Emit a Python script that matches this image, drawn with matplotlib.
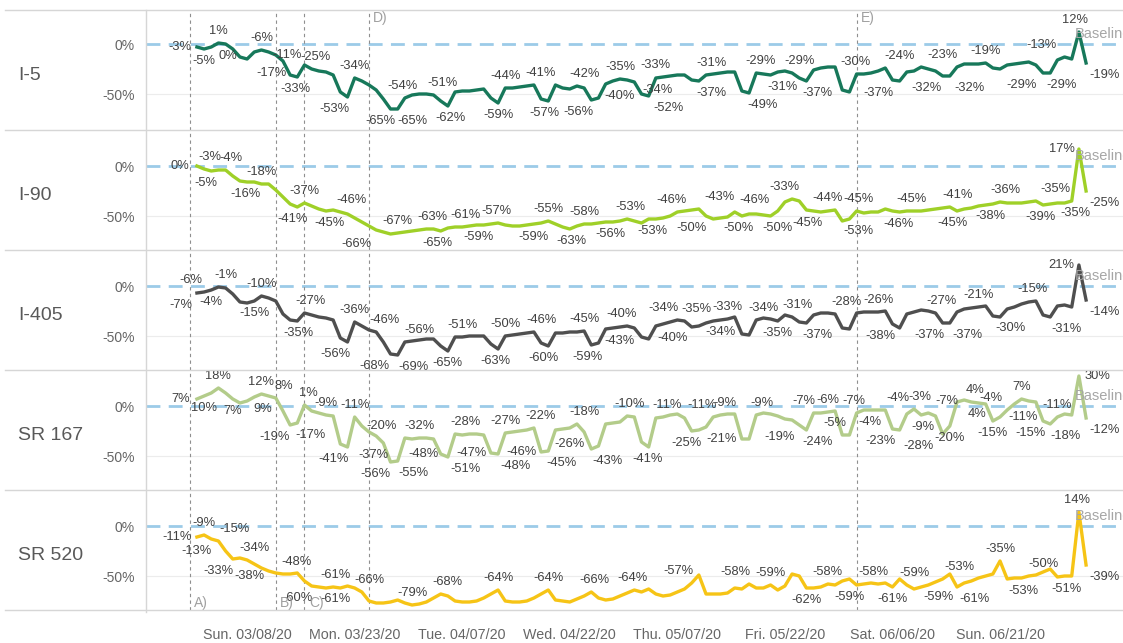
import numpy as np
import pandas as pd
import matplotlib
matplotlib.use("Agg")
import matplotlib.pyplot as plt
from matplotlib.lines import Line2D

plt.rcParams["font.family"] = ["Liberation Sans", "DejaVu Sans"]

# daily change vs baseline (%), starting Sun 03/01/20
start = pd.Timestamp("2020-03-01")

roads = ["I-5", "I-90", "I-405", "SR 167", "SR 520"]

i5 = [-3, -5, -3, 1, 0, -5, -13, -15, -8, -6,
      -8, -11, -17, -31, -33, -21, -25, -27, -28, -31,
      -48, -53, -34, -37, -41, -46, -55, -65, -65, -54,
      -51, -50, -50, -51, -57, -62, -48, -47, -47, -46,
      -45, -54, -59, -44, -44, -43, -42, -41, -55, -57,
      -41, -44, -45, -42, -44, -56, -54, -40, -37, -35,
      -36, -38, -50, -52, -34, -33, -32, -31, -31, -36,
      -37, -31, -30, -29, -28, -28, -47, -49, -29, -30,
      -31, -28, -27, -29, -34, -37, -26, -24, -23, -23,
      -46, -48, -30, -30, -29, -27, -24, -36, -37, -28,
      -27, -23, -25, -27, -32, -32, -23, -20, -20, -20,
      -19, -24, -25, -21, -20, -19, -18, -21, -29, -29,
      -16, -13, -15, 12, -19]

i90 = [0, -3, -5, -4, -4, -10, -15, -16, -16, -18,
       -18, -24, -31, -38, -41, -37, -40, -43, -45, -44,
       -46, -48, -52, -56, -60, -64, -66, -68, -67, -66,
       -65, -64, -63, -63, -65, -62, -61, -61, -60, -59,
       -59, -58, -57, -59, -60, -60, -59, -58, -57, -55,
       -58, -61, -63, -60, -58, -58, -57, -56, -56, -55,
       -53, -55, -57, -53, -53, -52, -50, -46, -45, -44,
       -43, -50, -53, -52, -51, -46, -50, -48, -48, -49,
       -50, -45, -36, -33, -35, -44, -45, -46, -45, -44,
       -55, -53, -45, -47, -46, -46, -43, -45, -46, -45,
       -45, -45, -44, -43, -42, -41, -45, -43, -42, -40,
       -39, -38, -36, -37, -37, -37, -36, -35, -39, -38,
       -37, -37, -35, 17, -25]

i405 = [-7, -6, -4, -1, -2, -8, -16, -17, -15, -10,
        -12, -15, -28, -34, -35, -27, -29, -31, -32, -34,
        -52, -56, -36, -40, -44, -46, -56, -68, -69, -56,
        -55, -54, -53, -53, -60, -65, -51, -51, -50, -50,
        -50, -58, -63, -50, -49, -48, -47, -46, -57, -60,
        -47, -47, -46, -46, -45, -59, -57, -43, -42, -41,
        -40, -42, -51, -53, -40, -38, -36, -34, -35, -41,
        -40, -37, -35, -34, -33, -31, -48, -49, -34, -32,
        -33, -35, -29, -31, -36, -37, -29, -27, -27, -28,
        -42, -43, -27, -26, -26, -26, -25, -38, -42, -28,
        -26, -24, -25, -27, -37, -37, -26, -23, -22, -21,
        -20, -30, -31, -23, -21, -18, -16, -15, -29, -31,
        -20, -19, -21, 21, -14]

sr167 = [7, 10, 13, 18, 13, 7, 3, 5, 9, 12,
         10, 8, -5, -19, -17, 1, -5, -7, -9, -10,
         -38, -41, -11, -20, -26, -30, -37, -56, -55, -32,
         -33, -32, -32, -33, -48, -51, -28, -29, -28, -28,
         -29, -47, -48, -27, -26, -25, -24, -22, -46, -45,
         -24, -23, -22, -18, -26, -43, -40, -18, -17, -16,
         -10, -11, -36, -41, -12, -11, -9, -8, -12, -25,
         -24, -21, -11, -9, -8, -8, -33, -33, -9, -7,
         -8, -10, -13, -14, -19, -24, -7, -7, -6, -5,
         -29, -29, -7, -4, -4, -4, -4, -23, -24, -8,
         -3, -9, -7, -10, -28, -20, 4, 6, 4, 3,
         2, -15, -11, -4, 2, 7, 5, 4, -15, -18,
         -11, -8, -9, 30, -12]

sr520 = [-11, -9, -13, -15, -25, -33, -32, -34, -38, -42,
         -45, -47, -48, -48, -47, -55, -60, -61, -62, -61,
         -62, -60, -62, -66, -75, -77, -77, -76, -74, -77,
         -79, -78, -76, -72, -68, -70, -75, -76, -76, -75,
         -72, -68, -64, -75, -76, -76, -75, -72, -68, -64,
         -74, -75, -76, -73, -70, -66, -72, -74, -73, -70,
         -67, -64, -66, -63, -68, -70, -69, -66, -63, -57,
         -49, -68, -68, -68, -67, -62, -63, -58, -62, -62,
         -59, -64, -60, -48, -50, -62, -62, -61, -58, -59,
         -55, -53, -59, -58, -57, -58, -57, -61, -53, -59,
         -63, -61, -59, -56, -53, -48, -61, -57, -55, -52,
         -50, -48, -35, -53, -52, -52, -50, -49, -46, -43,
         -51, -50, -50, 14, -39]

series = [i5, i90, i405, sr167, sr520]
colors = ["#17785a", "#9fd028", "#4f4f4f", "#b3cc8a", "#f6c416"]

event_names = ["A)", "B)", "C)", "D)", "E)"]
event_dates = ["2020-02-29", "2020-03-12", "2020-03-16", "2020-03-25", "2020-06-01"]
event_panel = [4, 4, 4, 0, 0]

tick_dates = ["2020-03-08", "2020-03-23", "2020-04-07", "2020-04-22",
              "2020-05-07", "2020-05-22", "2020-06-06", "2020-06-21"]

# which points carry a value label: (day, side, x of text or None)
labels = {
    "I-5": [(0, "m", -2.4), (1, "b", None), (3, "a", None), (4, "b", 4.3), (9, "a", None),
            (11, "m", 12.6), (12, "b", 10.4), (14, "b", 13.8), (16, "a", 16.6), (21, "b", 19.2),
            (22, "a", None), (27, "b", 25.6), (28, "b", 30.1), (29, "a", 28.7), (33, "a", 34.2),
            (35, "b", 35.3), (42, "b", None), (43, "a", None), (47, "a", 47.9), (49, "b", 48.4),
            (53, "a", 54.1), (55, "b", 53.2), (57, "b", 59.0), (59, "a", None), (63, "b", 65.7),
            (64, "b", 64.3), (65, "a", 64.0), (70, "b", 71.8), (71, "a", 71.8), (77, "b", 78.9),
            (78, "a", 78.6), (80, "b", 81.6), (83, "a", 84.1), (85, "b", 86.6), (92, "a", 91.8),
            (96, "a", 98.0), (98, "b", 95.0), (104, "b", 101.8), (105, "b", 107.8),
            (106, "a", 104.0), (110, "a", None), (118, "b", 115.0), (119, "b", 120.6),
            (121, "a", 117.8), (123, "a", 122.5), (124, "b", 126.6)],
    "I-90": [(0, "m", -2.4), (1, "a", 1.8), (4, "a", 4.8), (2, "b", 1.2), (7, "b", 6.8),
             (9, "a", None), (15, "a", None), (14, "b", 13.4), (18, "b", 18.5), (20, "a", 21.6),
             (26, "b", 22.2), (28, "a", None), (32, "a", 32.9), (36, "a", 37.4), (42, "a", 41.8),
             (34, "b", 33.5), (40, "b", 39.2), (49, "a", None), (54, "a", 54.1), (46, "b", 46.9),
             (52, "b", 52.3), (57, "b", 57.6), (60, "a", 60.4), (63, "b", 63.5), (67, "a", 66.2),
             (71, "b", 69.0), (70, "a", 72.9), (75, "a", 77.8), (76, "b", 75.5), (80, "b", 81.0),
             (83, "a", 82.0), (86, "b", 85.1), (89, "a", 87.9), (92, "a", 92.2), (91, "b", 92.2),
             (98, "b", 97.8), (100, "a", 99.7), (105, "a", 106.1), (106, "b", 105.4),
             (111, "b", 110.6), (112, "a", 112.7), (117, "a", 119.7), (118, "b", 117.6),
             (122, "b", 122.5), (123, "m", 120.6), (124, "b", 126.6)],
    "I-405": [(0, "b", -2.2), (1, "a", -0.9), (2, "b", 2.0), (3, "a", 4.1), (9, "a", None),
              (8, "b", None), (15, "a", 15.8), (14, "b", 14.1), (22, "a", None), (21, "b", 19.3),
              (25, "a", 26.2), (27, "b", 24.8), (29, "a", 31.1), (28, "b", 30.2), (35, "b", None),
              (36, "a", 37.1), (43, "a", None), (42, "b", 41.6), (47, "a", 48.1), (49, "b", 48.3),
              (54, "a", None), (55, "b", 54.5), (60, "a", 59.2), (57, "b", 59.0), (67, "a", 65.1),
              (68, "a", 69.7), (64, "b", 66.4), (74, "a", None), (73, "b", None), (78, "a", 79.0),
              (81, "b", None), (83, "a", 83.8), (85, "b", 86.5), (89, "a", 90.6), (95, "a", None),
              (97, "b", 95.3), (103, "a", 103.9), (104, "b", 102.2), (105, "b", 107.4),
              (109, "a", None), (111, "b", 113.4), (117, "a", 116.5), (119, "b", 121.3),
              (123, "m", 120.6), (124, "b", 126.6)],
    "SR 167": [(0, "m", -2.3), (1, "b", None), (3, "a", None), (5, "b", None), (8, "b", 9.2),
               (9, "a", None), (11, "a", 12.1), (15, "a", 15.5), (13, "b", 10.8), (14, "b", 15.8),
               (18, "a", None), (22, "a", None), (23, "m", 25.8), (29, "a", 31.1), (21, "b", 19.1),
               (26, "b", 24.6), (27, "b", 24.9), (28, "b", 30.2), (34, "m", 31.6), (36, "a", 37.4),
               (41, "m", 38.3), (35, "b", 37.4), (43, "a", None), (42, "b", 44.4), (48, "m", 45.3),
               (49, "b", 50.9), (54, "b", 52.0), (47, "a", 47.9), (53, "a", 54.1), (60, "a", 60.4),
               (55, "b", 57.2), (63, "b", 62.9), (65, "a", 65.5), (72, "a", 70.4), (73, "a", 73.7),
               (69, "b", 68.3), (71, "b", 73.2), (78, "a", 78.8), (84, "b", 81.3), (86, "a", 84.6),
               (88, "a", None), (89, "b", None), (85, "b", 86.5), (92, "a", 91.6), (93, "b", 93.9),
               (97, "b", 95.3), (96, "a", 97.8), (100, "a", 100.8), (101, "b", 101.3),
               (104, "b", 100.6), (102, "a", 104.6), (105, "b", None), (108, "a", 108.5),
               (106, "b", 108.8), (113, "a", 110.7), (111, "b", None), (112, "m", 115.2),
               (115, "a", None), (118, "b", 116.3), (119, "b", 121.1), (120, "a", None),
               (123, "m", 125.6), (124, "b", 126.6)],
    "SR 520": [(0, "m", -2.8), (1, "a", None), (2, "b", 0.0), (3, "a", 5.2), (5, "b", 3.0),
               (7, "a", 8.1), (8, "b", 7.3), (12, "a", 13.9), (16, "b", 14.0), (17, "b", 19.3),
               (19, "a", 19.3), (23, "a", 24.1), (30, "a", None), (34, "a", 35.0), (42, "a", None),
               (49, "a", None), (55, "a", 55.5), (61, "a", 60.7), (69, "a", 67.1), (77, "a", 75.1),
               (80, "a", None), (88, "a", None), (93, "a", 94.3), (99, "a", 100.1),
               (104, "a", 106.4), (112, "a", None), (116, "a", 118.0), (123, "a", 122.8),
               (85, "b", None), (92, "b", 91.0), (97, "b", None), (102, "b", 103.4),
               (106, "b", 108.5), (113, "b", 115.2), (120, "b", 121.3), (124, "b", 126.6)],
}

W, H = 1123, 643
fig = plt.figure(figsize=(W / 100, H / 100), dpi=100)

x = np.arange(len(i5))
event_days = [(pd.Timestamp(d) - start).days for d in event_dates]
tick_days = [(pd.Timestamp(d) - start).days for d in tick_dates]
tick_text = [pd.Timestamp(d).strftime("%a. %m/%d/%y") for d in tick_dates]

dy = {"a": 8.5, "b": -8.5, "m": 0}

for i, (road, vals, col) in enumerate(zip(roads, series, colors)):
    top = 10 + 120 * i
    ax = fig.add_axes([146 / W, 1 - (top + 120) / H, 1 - 146 / W, 120 / H])
    ax.set_xlim(-7.1, 129.15)
    if i == 0:
        ax.set_ylim(-86, 34)
    else:
        ax.set_ylim(-84, 36)
    for s in ax.spines.values():
        s.set_visible(False)

    ax.axhline(-50, color="#ececec", lw=0.8, zorder=0)
    ax.axhline(0, color="#9ccbe8", lw=2, dashes=(5, 3), zorder=1)
    for ed in event_days:
        ax.axvline(ed, color="#8f8f8f", lw=0.8, ls=(0, (3, 3)), zorder=1)

    ax.plot(x, vals, color=col, lw=2.4, zorder=3, solid_joinstyle="round")

    for d, side, xp in labels[road]:
        v = vals[d]
        ax.annotate(f"{v}%", xy=(d if xp is None else xp, v), xytext=(0, dy[side]),
                    textcoords="offset points", ha="center", va="center",
                    fontsize=9.3, color="#404040", zorder=4, annotation_clip=False)

    ax.annotate("Baseline", xy=(122.4, 0), xytext=(0, 7.5), textcoords="offset points",
                ha="left", va="center", fontsize=10.5, color="#a6a6a6",
                annotation_clip=False, zorder=4)

    for name, ed, p in zip(event_names, event_days, event_panel):
        if p == i:
            yy = 0.06 if p == 4 else 0.935
            ax.text(ed + 0.6, yy, name, transform=ax.get_xaxis_transform(),
                    ha="left", va="center", fontsize=10, color="#a0a0a0", zorder=4)

    ax.set_yticks([0, -50])
    ax.set_yticklabels(["0%", "-50%"])
    ax.tick_params(axis="y", length=0, pad=8, labelsize=10, labelcolor="#666666")
    if i == 4:
        ax.set_xticks(tick_days)
        ax.set_xticklabels(tick_text)
        ax.tick_params(axis="x", length=0, pad=13, labelsize=10.3, labelcolor="#666666")
    else:
        ax.set_xticks([])

    fig.text(18 / W, 1 - (top + 65) / H, road, fontsize=14, color="#595959",
             ha="left", va="center")

# row separators and the axis line
for k in range(6):
    yk = 1 - (10 + 120 * k) / H
    fig.add_artist(Line2D([5 / W, 1], [yk, yk], color="#d6d6d6", lw=1))
fig.add_artist(Line2D([146 / W, 146 / W], [1 - 10 / H, 1 - 612 / H], color="#d6d6d6", lw=1))

fig.savefig("out.png", dpi=100)
